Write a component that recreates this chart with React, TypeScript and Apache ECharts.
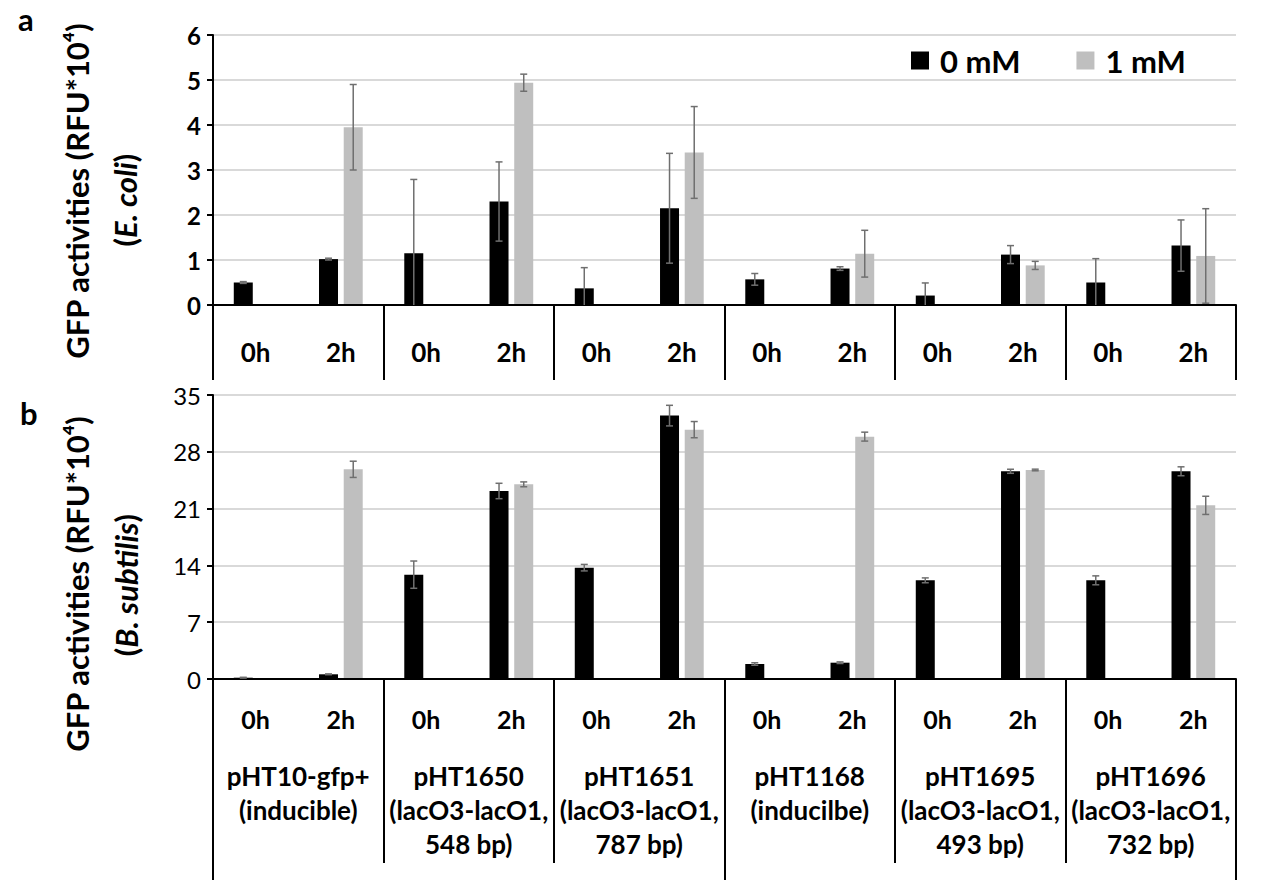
import React, { useEffect, useRef } from "react";
import * as echarts from "echarts";

const timeLabels = ["0h", "2h", "0h", "2h", "0h", "2h", "0h", "2h", "0h", "2h", "0h", "2h"];
const strainLabels = [
  "pHT10-gfp+\n(inducible)",
  "pHT1650\n(lacO3-lacO1,\n548 bp)",
  "pHT1651\n(lacO3-lacO1,\n787 bp)",
  "pHT1168\n(inducilbe)",
  "pHT1695\n(lacO3-lacO1,\n493 bp)",
  "pHT1696\n(lacO3-lacO1,\n732 bp)",
];
const backboneGroups = ["pHT10", "pHT1168"];
const seriesNames = ["0 mM", "1 mM"];

// Panel a: E. coli (RFU*10^4)
const ecoli0mM = [0.5, 1.02, 1.15, 2.3, 0.37, 2.15, 0.57, 0.81, 0.21, 1.12, 0.5, 1.32];
const ecoli0mMErr = [0.02, 0.02, 1.64, 0.88, 0.46, 1.22, 0.13, 0.04, 0.28, 0.2, 0.53, 0.57];
const ecoli1mM = [null, 3.95, null, 4.94, null, 3.39, null, 1.14, null, 0.88, null, 1.09];
const ecoli1mMErr = [null, 0.95, null, 0.19, null, 1.02, null, 0.52, null, 0.09, null, 1.05];

// Panel b: B. subtilis (RFU*10^4)
const bsub0mM = [0.16, 0.58, 12.86, 23.17, 13.72, 32.46, 1.85, 2.01, 12.16, 25.6, 12.16, 25.6];
const bsub0mMErr = [0.05, 0.05, 1.68, 0.95, 0.4, 1.27, 0.15, 0.1, 0.3, 0.25, 0.55, 0.55];
const bsub1mM = [null, 25.84, null, 23.99, null, 30.73, null, 29.87, null, 25.76, null, 21.4];
const bsub1mMErr = [null, 1.0, null, 0.3, null, 1.0, null, 0.55, null, 0.1, null, 1.12];

const FONT = "Lato";
const BAR_W = 19;
const BAR_GAP = 0.3;
const OFFSET = (BAR_W + BAR_W * BAR_GAP) / 2;

function errData(vals: (number | null)[], errs: (number | null)[]) {
  const out: any[] = [];
  vals.forEach((v, i) => {
    if (v != null && errs[i] != null) out.push([i, v, errs[i]]);
  });
  return out;
}

function errRender(offset: number) {
  return (params: any, api: any) => {
    const i = api.value(0);
    const v = api.value(1);
    const e = api.value(2);
    const lo = Math.max(0, v - e);
    const hi = v + e;
    const pTop = api.coord([i, hi]);
    const pBot = api.coord([i, lo]);
    const x = pTop[0] + offset;
    const cap = 3.5;
    const style = { stroke: "#6f6f6f", lineWidth: 1.5 };
    const children: any[] = [
      { type: "line", shape: { x1: x, y1: pTop[1], x2: x, y2: pBot[1] }, style },
      { type: "line", shape: { x1: x - cap, y1: pTop[1], x2: x + cap, y2: pTop[1] }, style },
    ];
    if (v - e > 0) {
      children.push({ type: "line", shape: { x1: x - cap, y1: pBot[1], x2: x + cap, y2: pBot[1] }, style });
    }
    return { type: "group", children };
  };
}

export default function App() {
  const ref = useRef<HTMLDivElement>(null);
  useEffect(() => {
    if (!ref.current) return;
    const chart = echarts.init(ref.current, null, { renderer: "svg" });
    const axisLineStyle = { color: "#000", width: 2 };
    const timeAxis = (gridIndex: number, margin: number, size: number) => ({
      type: "category",
      gridIndex,
      data: timeLabels,
      position: "bottom",
      axisLine: { show: true, lineStyle: axisLineStyle },
      axisTick: { show: false },
      axisLabel: {
        interval: 0,
        margin,
        fontFamily: FONT,
        fontWeight: "bold",
        fontSize: size,
        color: "#000",
      },
      z: 5,
    });
    const titleStyle = { fontFamily: FONT, fontWeight: "bold", fontSize: 31, fill: "#000" };
    const option: any = {
      animation: false,
      backgroundColor: "#fff",
      textStyle: { fontFamily: FONT },
      grid: [
        { left: 213, right: 35, top: 35, height: 270 },
        { left: 213, right: 35, top: 395, height: 284 },
      ],
      legend: {
        data: seriesNames,
        left: 906,
        top: 40,
        icon: "rect",
        itemWidth: 18,
        itemHeight: 18,
        itemGap: 56,
        textStyle: {
          fontFamily: FONT,
          fontWeight: "bold",
          fontSize: 31,
          color: "#000",
          padding: [0, 0, 0, 6],
        },
      },
      xAxis: [
        timeAxis(0, 34, 26),
        {
          type: "category",
          gridIndex: 0,
          data: strainLabels,
          position: "bottom",
          axisLine: { show: false },
          axisTick: { show: true, length: 75, interval: 0, lineStyle: axisLineStyle },
          axisLabel: { show: false },
        },
        timeAxis(1, 27, 25),
        {
          type: "category",
          gridIndex: 1,
          data: strainLabels,
          position: "bottom",
          axisLine: { show: false },
          axisTick: { show: true, length: 184, interval: 0, lineStyle: axisLineStyle },
          axisLabel: {
            interval: 0,
            margin: 80,
            fontFamily: FONT,
            fontWeight: "bold",
            fontSize: 26,
            lineHeight: 34,
            color: "#000",
          },
        },
        {
          type: "category",
          gridIndex: 1,
          data: backboneGroups,
          position: "bottom",
          axisLine: { show: false },
          axisTick: { show: true, length: 201, interval: 0, lineStyle: axisLineStyle },
          axisLabel: { show: false },
        },
      ],
      yAxis: [
        {
          type: "value",
          gridIndex: 0,
          min: 0,
          max: 6,
          interval: 1,
          axisLine: { show: true, lineStyle: axisLineStyle },
          axisTick: { show: true, length: 6, lineStyle: axisLineStyle },
          splitLine: { lineStyle: { color: "#d9d9d9", width: 2 } },
          axisLabel: {
            margin: 12,
            fontFamily: FONT,
            fontWeight: "bold",
            fontSize: 24,
            color: "#000",
          },
        },
        {
          type: "value",
          gridIndex: 1,
          min: 0,
          max: 35,
          interval: 7,
          axisLine: { show: true, lineStyle: axisLineStyle },
          axisTick: { show: true, length: 6, lineStyle: axisLineStyle },
          splitLine: { lineStyle: { color: "#d9d9d9", width: 2 } },
          axisLabel: {
            margin: 12,
            fontFamily: FONT,
            fontWeight: "normal",
            fontSize: 24,
            color: "#000",
          },
        },
      ],
      series: [
        {
          name: seriesNames[0],
          type: "bar",
          xAxisIndex: 0,
          yAxisIndex: 0,
          data: ecoli0mM,
          barWidth: BAR_W,
          barGap: "30%",
          itemStyle: { color: "#000" },
          z: 3,
        },
        {
          name: seriesNames[1],
          type: "bar",
          xAxisIndex: 0,
          yAxisIndex: 0,
          data: ecoli1mM.map((v) => (v == null ? "-" : v)),
          barWidth: BAR_W,
          barGap: "30%",
          itemStyle: { color: "#bfbfbf" },
          z: 3,
        },
        {
          name: seriesNames[0],
          type: "bar",
          xAxisIndex: 2,
          yAxisIndex: 1,
          data: bsub0mM,
          barWidth: BAR_W,
          barGap: "30%",
          itemStyle: { color: "#000" },
          z: 3,
        },
        {
          name: seriesNames[1],
          type: "bar",
          xAxisIndex: 2,
          yAxisIndex: 1,
          data: bsub1mM.map((v) => (v == null ? "-" : v)),
          barWidth: BAR_W,
          barGap: "30%",
          itemStyle: { color: "#bfbfbf" },
          z: 3,
        },
        {
          name: "err-a-0",
          type: "custom",
          xAxisIndex: 0,
          yAxisIndex: 0,
          data: errData(ecoli0mM, ecoli0mMErr),
          renderItem: errRender(-OFFSET),
          encode: { x: 0, y: 1 },
          z: 6,
        },
        {
          name: "err-a-1",
          type: "custom",
          xAxisIndex: 0,
          yAxisIndex: 0,
          data: errData(ecoli1mM, ecoli1mMErr),
          renderItem: errRender(OFFSET),
          encode: { x: 0, y: 1 },
          z: 6,
        },
        {
          name: "err-b-0",
          type: "custom",
          xAxisIndex: 2,
          yAxisIndex: 1,
          data: errData(bsub0mM, bsub0mMErr),
          renderItem: errRender(-OFFSET),
          encode: { x: 0, y: 1 },
          z: 6,
        },
        {
          name: "err-b-1",
          type: "custom",
          xAxisIndex: 2,
          yAxisIndex: 1,
          data: errData(bsub1mM, bsub1mMErr),
          renderItem: errRender(OFFSET),
          encode: { x: 0, y: 1 },
          z: 6,
        },
      ],
      graphic: [
        {
          type: "text",
          left: 18,
          top: 3,
          style: { text: "a", fontFamily: FONT, fontWeight: "bold", fontSize: 31, fill: "#000" },
        },
        {
          type: "text",
          left: 20,
          top: 397,
          style: { text: "b", fontFamily: FONT, fontWeight: "bold", fontSize: 31, fill: "#000" },
        },
        {
          type: "text",
          x: 77,
          y: 191,
          rotation: Math.PI / 2,
          style: {
            text: "GFP activities (RFU*10⁴)",
            ...titleStyle,
            align: "center",
            verticalAlign: "middle",
          },
        },
        {
          type: "text",
          x: 125,
          y: 200,
          rotation: Math.PI / 2,
          style: {
            text: "{n|(}{i|E. coli}{n|)}",
            rich: {
              n: { ...titleStyle },
              i: { ...titleStyle, fontStyle: "italic" },
            },
            align: "center",
            verticalAlign: "middle",
          },
        },
        {
          type: "text",
          x: 77,
          y: 584,
          rotation: Math.PI / 2,
          style: {
            text: "GFP activities (RFU*10⁴)",
            ...titleStyle,
            align: "center",
            verticalAlign: "middle",
          },
        },
        {
          type: "text",
          x: 126,
          y: 585,
          rotation: Math.PI / 2,
          style: {
            text: "{n|(}{i|B. subtilis}{n|)}",
            rich: {
              n: { ...titleStyle },
              i: { ...titleStyle, fontStyle: "italic" },
            },
            align: "center",
            verticalAlign: "middle",
          },
        },
      ],
    };
    chart.setOption(option);
    return () => chart.dispose();
  }, []);
  return (
    <div
      ref={ref}
      style={{ position: "fixed", left: 0, top: 0, width: 1271, height: 887, background: "#fff" }}
    />
  );
}
